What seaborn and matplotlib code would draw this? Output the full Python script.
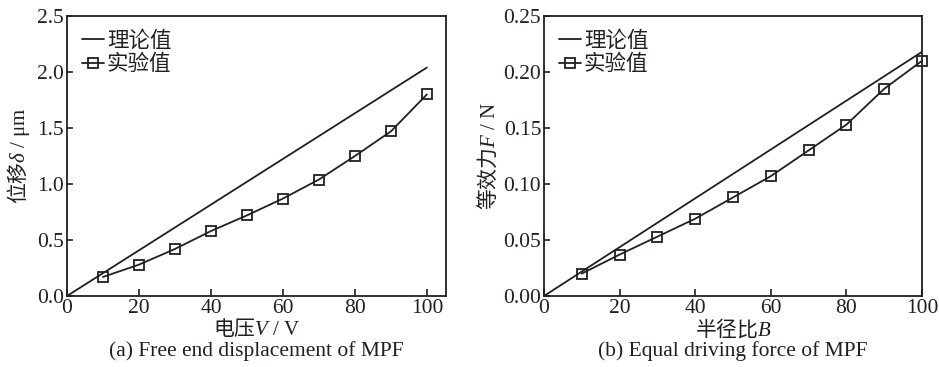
import numpy as np
import pandas as pd
import matplotlib
matplotlib.use("Agg")
import matplotlib.pyplot as plt
import seaborn as sns

# ---- data ----
voltage = [10, 20, 30, 40, 50, 60, 70, 80, 90, 100]
disp_exp = [0.17, 0.28, 0.42, 0.58, 0.72, 0.87, 1.04, 1.25, 1.47, 1.80]
theory_v = [0, 100]
disp_theory = [0.0, 2.04]

ratio = [10, 20, 30, 40, 50, 60, 70, 80, 90, 100]
force_exp = [0.020, 0.037, 0.053, 0.069, 0.088, 0.107, 0.130, 0.153, 0.185, 0.210]
theory_b = [0, 100]
force_theory = [0.0, 0.218]

legend_labels = ["理论值", "实验值"]

sns.set_theme(style="white")
fam = ["Liberation Serif", "Noto Sans CJK SC", "DejaVu Sans"]
plt.rcParams["font.family"] = fam
plt.rcParams["mathtext.fontset"] = "custom"
plt.rcParams["mathtext.rm"] = "Liberation Serif"
plt.rcParams["mathtext.sf"] = "Liberation Serif"
plt.rcParams["mathtext.it"] = "Liberation Serif:italic"
plt.rcParams["axes.unicode_minus"] = False

INK = "#231f20"
FS = 15.5
CJK = "Noto Sans CJK SC"

fig = plt.figure(figsize=(9.39, 3.67), dpi=100)
axL = fig.add_axes([67/939, 1-296/367, 379/939, 280/367])
axR = fig.add_axes([544/939, 1-296/367, 378/939, 280/367])

def draw(ax, xt, yt, xe, ye, xlim, ylim, yticks, yfmt, xlabel, ylabel, caption, ylx):
    dt = pd.DataFrame({"x": xt, "y": yt})
    de = pd.DataFrame({"x": xe, "y": ye})
    sns.lineplot(data=dt, x="x", y="y", ax=ax, color=INK, lw=1.3, label=legend_labels[0])
    sns.lineplot(data=de, x="x", y="y", ax=ax, color=INK, lw=1.3, marker="s",
                 markersize=6.5, markerfacecolor="none", markeredgecolor=INK,
                 markeredgewidth=1.3, label=legend_labels[1], clip_on=False)
    ax.set_xlim(*xlim)
    ax.set_ylim(*ylim)
    ax.set_xticks([0, 20, 40, 60, 80, 100])
    ax.set_yticks(yticks)
    ax.set_yticklabels([yfmt.format(v) for v in yticks])
    for s in ax.spines.values():
        s.set_color(INK)
        s.set_linewidth(1.3)
        s.set_visible(True)
    ax.tick_params(axis="x", direction="in", length=5, width=1.2, pad=2,
                   labelsize=FS, colors=INK, bottom=True)
    ax.tick_params(axis="y", direction="in", length=4, width=1.2, pad=2,
                   labelsize=FS, colors=INK, left=True)
    ax.set_xlabel(xlabel, fontsize=15, color=INK, family=CJK)
    ax.set_ylabel(ylabel, fontsize=15, color=INK, family=CJK)
    ax.xaxis.label.set_va("center")
    ax.xaxis.set_label_coords(0.5, -0.116)
    ax.yaxis.label.set_va("center")
    ax.yaxis.set_label_coords(ylx, 0.5)
    ax.text(0.5, -0.197, caption, transform=ax.transAxes, ha="center", va="center",
            fontsize=FS, color=INK)
    leg = ax.legend(loc="upper left", frameon=False, fontsize=FS, handlelength=1.0,
                    handletextpad=0.15, labelspacing=0.15, borderaxespad=0.3,
                    bbox_to_anchor=(0.0, 1.0))
    for t in leg.get_texts():
        t.set_color(INK)

draw(axL, theory_v, disp_theory, voltage, disp_exp, (0, 105.3), (0, 2.5),
     [0.0, 0.5, 1.0, 1.5, 2.0, 2.5], "{:.1f}",
     "电压$V\\mathsf{\\ /\\ V}$", "位移$\\delta\\mathsf{\\ /\\ μm}$",
     "(a) Free end displacement of MPF", -0.127)
draw(axR, theory_b, force_theory, ratio, force_exp, (0, 100), (0, 0.25),
     [0.0, 0.05, 0.10, 0.15, 0.20, 0.25], "{:.2f}",
     "半径比$B$", "等效力$F\\mathsf{\\ /\\ N}$",
     "(b) Equal driving force of MPF", -0.148)

fig.savefig("out.png", dpi=100)
